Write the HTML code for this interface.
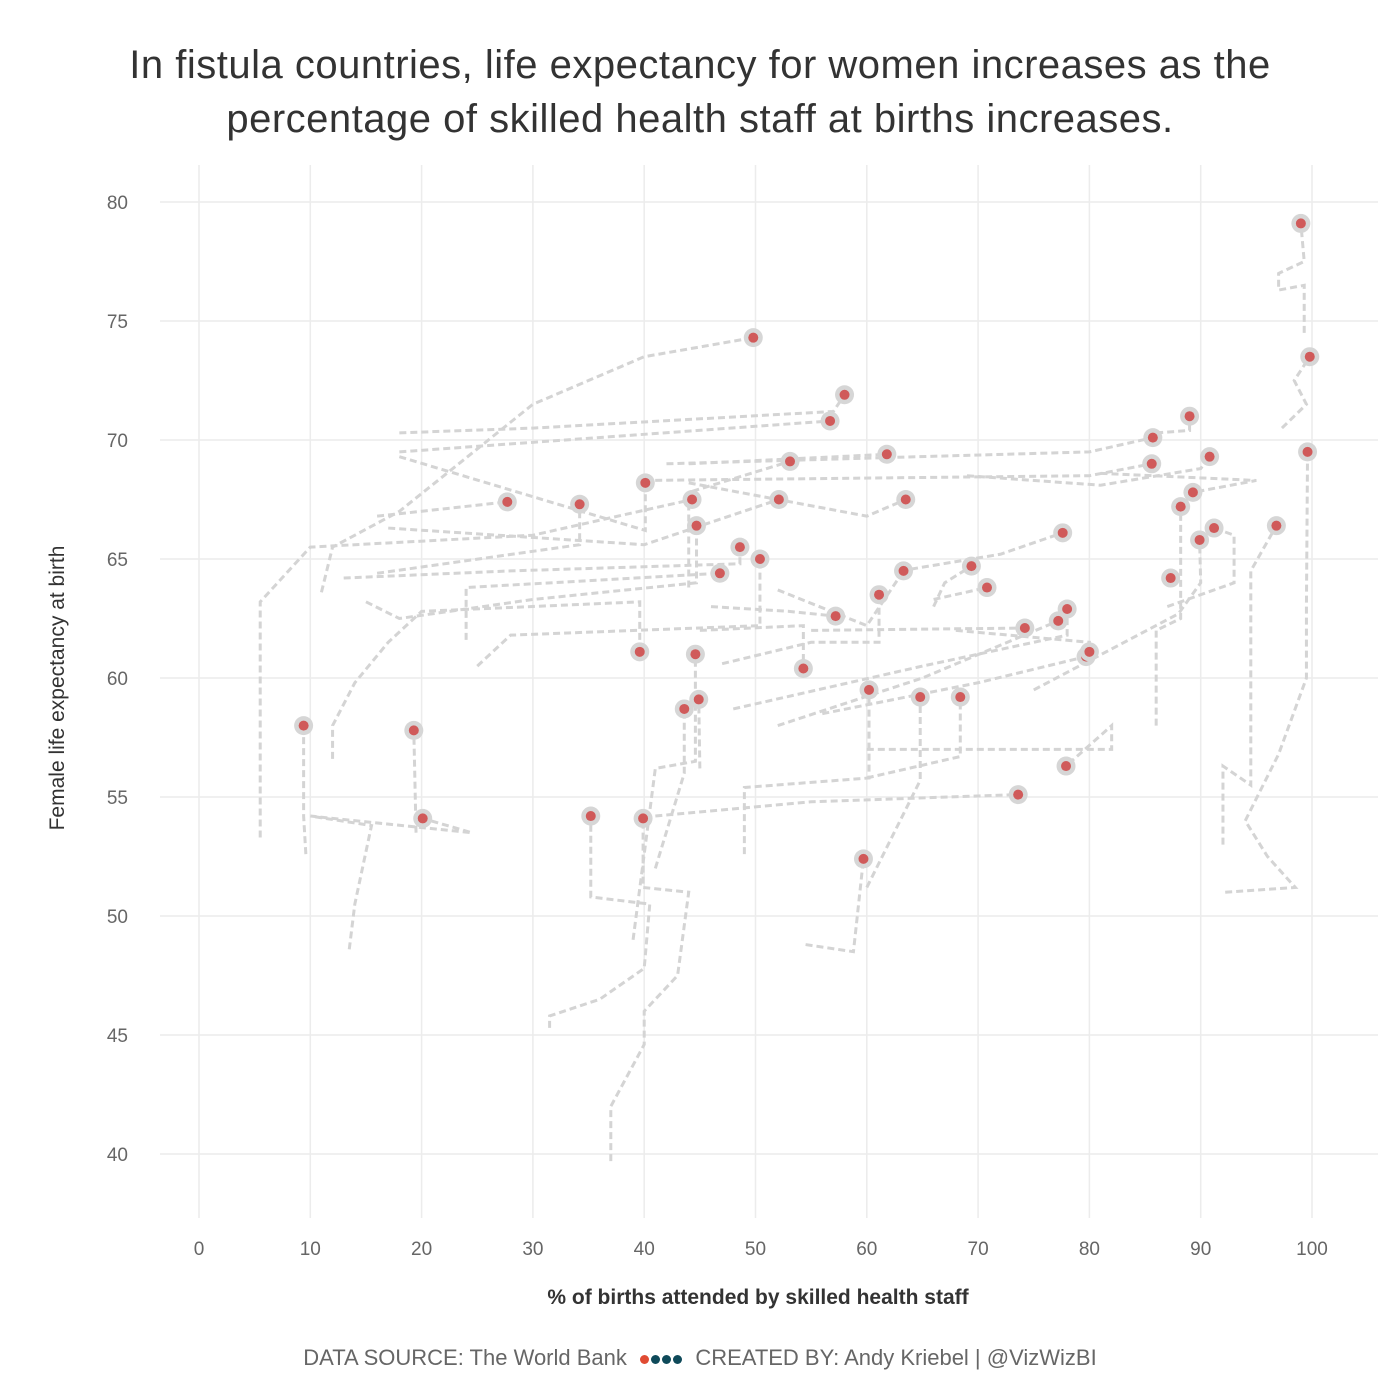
<!DOCTYPE html>
<html><head><meta charset="utf-8">
<style>
body{margin:0;background:#fff;font-family:"Liberation Sans",sans-serif;}
#wrap{position:relative;width:1400px;height:1400px;overflow:hidden;}
h1{position:absolute;top:38px;left:0;width:1400px;margin:0;text-align:center;font-weight:normal;font-size:40px;line-height:54px;color:#333;letter-spacing:0.5px;}
#foot{position:absolute;top:1345px;left:0;width:1400px;text-align:center;font-size:22px;color:#666;}
.dot{display:inline-block;width:9px;height:9px;border-radius:50%;margin:0 1px;vertical-align:middle;}
</style></head>
<body><div id="wrap">
<h1>In fistula countries, life expectancy for women increases as the<br>percentage of skilled health staff at births increases.</h1>
<svg id="svg" width="1400" height="1400" style="position:absolute;left:0;top:0"></svg>
<div id="foot">DATA SOURCE: The World Bank &nbsp;<span class="dot" style="background:#e04b33"></span><span class="dot" style="background:#0f4a5a"></span><span class="dot" style="background:#0f4a5a"></span><span class="dot" style="background:#0f4a5a"></span>&nbsp; CREATED BY: Andy Kriebel | @VizWizBI</div>
</div>
<script>
const xTicks=[0,10,20,30,40,50,60,70,80,90,100];
const yTicks=[40,45,50,55,60,65,70,75,80];
const pointX=[9.4,19.3,20.1,27.7,34.2,40.1,39.6,35.2,39.9,44.3,44.7,46.8,48.6,50.4,52.1,49.8,56.7,58.0,53.1,61.8,63.5,44.6,43.6,44.9,54.3,57.2,61.1,63.3,60.2,64.8,68.4,59.7,69.4,70.8,74.2,77.2,78.0,77.6,73.6,77.9,79.7,80.0,85.7,85.6,89.0,90.8,89.3,88.2,89.9,91.2,87.3,96.8,99.0,99.8,99.6];
const pointY=[58.0,57.8,54.1,67.4,67.3,68.2,61.1,54.2,54.1,67.5,66.4,64.4,65.5,65.0,67.5,74.3,70.8,71.9,69.1,69.4,67.5,61.0,58.7,59.1,60.4,62.6,63.5,64.5,59.5,59.2,59.2,52.4,64.7,63.8,62.1,62.4,62.9,66.1,55.1,56.3,60.9,61.1,70.1,69.0,71.0,69.3,67.8,67.2,65.8,66.3,64.2,66.4,79.1,73.5,69.5];
const trails=[
[[9.6,52.6],[9.4,54.2],[9.4,58.0]],
[[19.5,53.5],[19.3,57.8]],
[[13.5,48.6],[14,50.5],[15.5,53.8],[10,54.2],[24.5,53.5],[20.1,54.1]],
[[16,66.8],[27.7,67.4]],
[[16,64.4],[34.2,65.6],[34.2,67.3]],
[[18,69.3],[40.1,66.2],[40.1,68.2]],
[[12,56.6],[12,58],[14,59.8],[17,61.5],[20,62.8],[39.6,63.2],[39.6,61.1]],
[[31.5,45.3],[31.5,45.8],[36,46.5],[40,47.8],[40.5,50.5],[35.2,50.8],[35.2,54.2]],
[[37,39.7],[37,42],[40,44.6],[40,46],[43,47.5],[44,51],[39.9,51.2],[39.9,54.1]],
[[5.5,53.3],[5.5,63.2],[10,65.5],[30,66],[44.3,67.5]],
[[15,63.2],[18,62.5],[30,63.3],[44.7,64],[44.7,66.4]],
[[24,61.6],[24,63.8],[46.8,64.4]],
[[13,64.2],[28,64.5],[48.6,64.8],[48.6,65.5]],
[[25,60.5],[28,61.8],[50.4,62.2],[50.4,65.0]],
[[17,66.3],[40,65.6],[52.1,67.5]],
[[11,63.6],[12,65.5],[18,67],[30,71.5],[40,73.5],[49.8,74.3]],
[[18,69.5],[56.7,70.8]],
[[18,70.3],[30,70.5],[57,71.2],[58.0,71.9]],
[[44,63.8],[44,67.8],[53.1,69.1]],
[[44,69],[61.8,69.4]],
[[44,68.2],[60,66.8],[63.5,67.5]],
[[39,49],[41,56.2],[44.6,56.5],[44.6,61.0]],
[[41,52],[43.6,56],[43.6,58.7]],
[[45,56.2],[44.9,59.1]],
[[45,62],[54.3,62.2],[54.3,60.4]],
[[46,63],[53,62.8],[57.2,62.6]],
[[47,60.6],[55,61.5],[61.1,61.5],[61.1,63.5]],
[[52,63.7],[60,62.2],[63.3,64.5]],
[[49,52.6],[49,55.4],[60.2,55.8],[60.2,59.5]],
[[60,51.2],[64.8,55.7],[64.8,59.2]],
[[60,55.8],[68.4,56.7],[68.4,59.2]],
[[54.5,48.8],[58.8,48.5],[59.7,52.4]],
[[66,63],[67,64],[69.4,64.7]],
[[66,63.3],[70.8,63.8]],
[[55,62],[74.2,62.1]],
[[52,58],[65,60],[77.2,62.4]],
[[48,58.7],[65,60.5],[78,61.8],[78.0,62.9]],
[[63,64.5],[72,65.2],[77.6,66.1]],
[[41,54.2],[55,54.8],[73.6,55.1]],
[[60,57],[82,57],[82,58],[77.9,56.3]],
[[56,58.5],[70,59.8],[79.7,60.9]],
[[68,62],[80,61.5],[80.0,61.1]],
[[42,69],[80,69.5],[85.7,70.1]],
[[40,68.3],[80,68.5],[85.6,69.0]],
[[86,70.3],[89.0,70.4],[89.0,71.0]],
[[69,68.5],[81,68.1],[90,68.8],[90.8,69.3]],
[[81,68.6],[95,68.3],[89.3,67.8]],
[[86,58],[86,62],[88.2,62.5],[88.2,67.2]],
[[75,59.5],[88,62.7],[90,64],[89.9,65.8]],
[[87,63],[93,64],[93,66],[91.2,66.3]],
[[92,53],[92,56.3],[94.5,55.5],[94.5,64.5],[96.8,66.4]],
[[92.2,51],[98.5,51.2],[96,52.5],[94,54],[97,56.8],[99.5,60],[99.5,63],[99.6,69.5]],
[[97.3,70.5],[99.5,71.5],[98.4,72.5],[99.8,73.5]],
[[99.3,74.5],[99.3,76.5],[97,76.3],[97,77],[99.3,77.5],[99.0,79.1]]
];
const NS="http://www.w3.org/2000/svg";
const svg=document.getElementById('svg');
const sx=v=>199+v*11.13, sy=v=>202+(80-v)*23.8;
function mk(t,a){const e=document.createElementNS(NS,t);for(const k in a)e.setAttribute(k,a[k]);svg.appendChild(e);return e;}
yTicks.forEach(t=>{
 const l=mk('line',{x1:160,x2:1378,y1:sy(t),y2:sy(t),stroke:'#ececec','stroke-width':1.5});
 
 
 const tx=mk('text',{x:128,y:sy(t)+7,'text-anchor':'end','font-size':19,fill:'#666','font-family':'Liberation Sans, sans-serif'});
 tx.textContent=t;
 
 
});
xTicks.forEach(t=>{
 const l=mk('line',{x1:sx(t),x2:sx(t),y1:165,y2:1218,stroke:'#ececec','stroke-width':1.5});
 
 
 const tx=mk('text',{x:sx(t),y:1255,'text-anchor':'middle','font-size':19,fill:'#666','font-family':'Liberation Sans, sans-serif'});
 tx.textContent=t;
 
 
});
const xt=mk('text',{x:758,y:1304,'text-anchor':'middle','font-size':21,'font-weight':'bold',fill:'#333','font-family':'Liberation Sans, sans-serif'});
xt.textContent='% of births attended by skilled health staff';


const yt=mk('text',{x:0,y:0,transform:'translate(64,688) rotate(-90)','text-anchor':'middle','font-size':21,fill:'#333','font-family':'Liberation Sans, sans-serif'});
yt.textContent='Female life expectancy at birth';


trails.forEach(tr=>{
 const p=mk('polyline',{points:tr.map(q=>sx(q[0])+','+sy(q[1])).join(' '),fill:'none',stroke:'#d4d4d4','stroke-width':3,'stroke-dasharray':'7,4'});
 
 
});
pointX.forEach((x,i)=>{
 const o=mk('circle',{cx:sx(x),cy:sy(pointY[i]),r:9.5,fill:'#d6d6d6'});
 
 
 const c=mk('circle',{cx:sx(x),cy:sy(pointY[i]),r:5,fill:'#d05a5a'});
 
 
});
</script>
</body></html>
